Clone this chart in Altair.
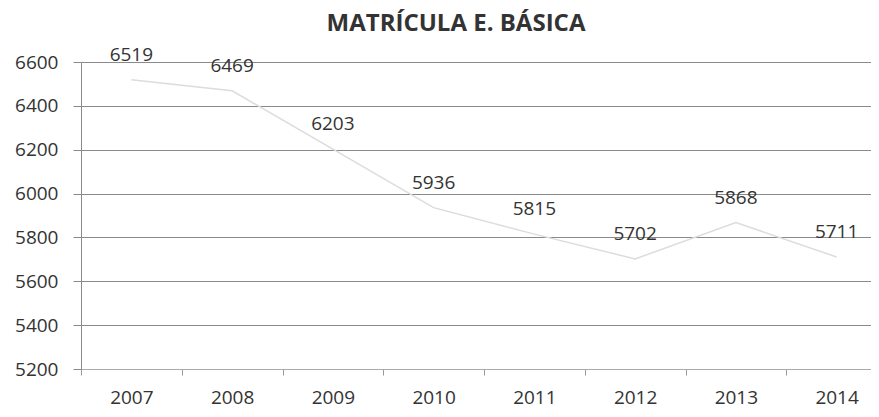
import altair as alt
import pandas as pd

years = ["2007", "2008", "2009", "2010", "2011", "2012", "2013", "2014"]
values = [6519, 6469, 6203, 5936, 5815, 5702, 5868, 5711]
y_ticks = [5200, 5400, 5600, 5800, 6000, 6200, 6400, 6600]

df = pd.DataFrame({"year": years, "value": values})

FONT = "Open Sans"
FS = 19

x = alt.X("year:N", sort=years, title=None,
          scale=alt.Scale(paddingInner=0, paddingOuter=0, range=[0, 806]),
          axis=alt.Axis(labelAngle=0, labelFont=FONT, labelFontSize=FS, labelColor="#333333",
                        labelPadding=13, tickSize=6, tickColor="#999999", tickBand="extent",
                        domainColor="#aaaaaa", grid=False))
y = alt.Y("value:Q", title=None,
          scale=alt.Scale(domain=[5200, 6600], nice=False, zero=False),
          axis=alt.Axis(values=y_ticks, format="d", labelFont=FONT, labelFontSize=FS,
                        labelColor="#333333", labelPadding=15, tickSize=8, tickColor="#8a8a8a",
                        domainColor="#8a8a8a", gridColor="#8a8a8a", gridWidth=1))

base = alt.Chart(df)
line = base.mark_line(color="#dcdcdc", strokeWidth=1.5).encode(x=x, y=y)
labels = base.mark_text(dy=-25, baseline="middle", font=FONT, fontSize=FS, color="#333333").encode(
    x=x, y=y, text="value:Q")

chart = (line + labels).properties(
    width=790, height=307,
    autosize=alt.AutoSizeParams(type="none"),
    padding={"left": 73, "top": 54, "right": 0, "bottom": 46},
    title=alt.TitleParams("MATRÍCULA  E. BÁSICA", font=FONT, fontSize=24, fontWeight="bold",
                          color="#333333", anchor="middle", offset=10, dx=-20),
).configure_view(stroke=None).configure(background="white")

chart.save("out.html", embed_options={"renderer": "svg", "actions": False})
